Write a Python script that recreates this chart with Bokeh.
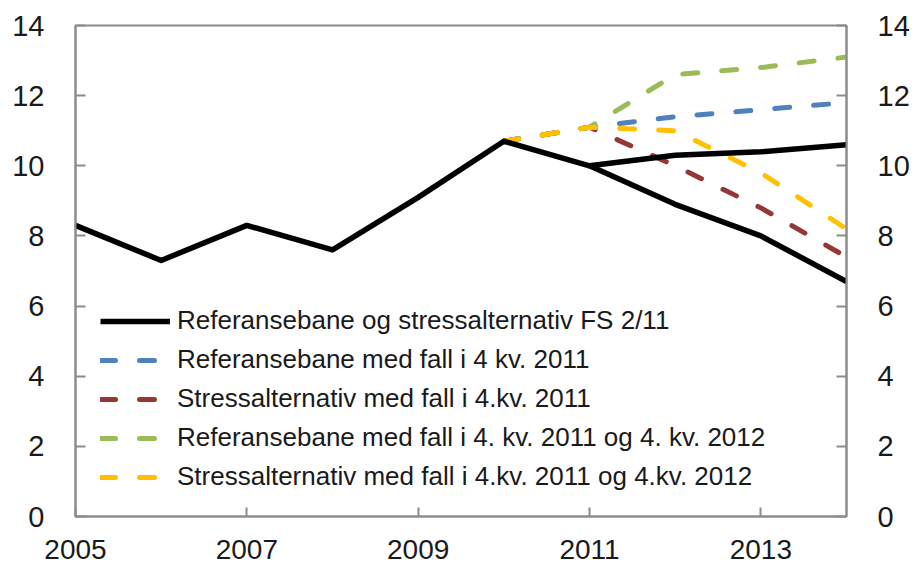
from bokeh.plotting import figure
from bokeh.models import Range1d, FixedTicker, LinearAxis, Legend, LegendItem
from bokeh.embed import file_html
from bokeh.resources import INLINE

# ---- data ----
years = [2005, 2006, 2007, 2008, 2009, 2010, 2011, 2012, 2013, 2014]
ref_fs = [8.3, 7.3, 8.3, 7.6, 9.1, 10.7, 10.0, 10.3, 10.4, 10.6]
stress_years = [2011, 2012, 2013, 2014]
stress_fs = [10.0, 8.9, 8.0, 6.7]

scen_years = [2010, 2011, 2012, 2013, 2014]
ref_q4_2011 = [10.7, 11.1, 11.4, 11.6, 11.8]
stress_q4_2011 = [10.7, 11.1, 10.0, 8.8, 7.4]
ref_q4_2011_2012 = [10.7, 11.1, 12.6, 12.8, 13.1]
stress_q4_2011_2012 = [10.7, 11.1, 11.0, 9.8, 8.2]

labels = [
    "Referansebane og stressalternativ FS 2/11",
    "Referansebane med fall i 4 kv. 2011",
    "Stressalternativ med fall i 4.kv. 2011",
    "Referansebane med fall i 4. kv. 2011 og 4. kv. 2012",
    "Stressalternativ med fall i 4.kv. 2011 og 4.kv. 2012",
]
x_ticks = [2005, 2007, 2009, 2011, 2013]
y_ticks = [0, 2, 4, 6, 8, 10, 12, 14]

FONT = "Liberation Sans"
GREY = "#8C8C8C"

p = figure(width=912, height=573, output_backend="svg", toolbar_location=None,
           x_range=Range1d(2005, 2014), y_range=Range1d(0, 14),
           min_border_left=75, min_border_right=64, min_border_top=25, min_border_bottom=57)
p.grid.visible = False
p.outline_line_color = GREY
p.outline_line_width = 2
p.background_fill_color = "white"
p.border_fill_color = "white"

def style_axis(ax, ticks, tin, standoff, size):
    ax.ticker = FixedTicker(ticks=ticks)
    ax.axis_line_color = GREY
    ax.axis_line_width = 2
    ax.major_tick_line_color = GREY
    ax.major_tick_line_width = 2
    ax.major_tick_in = tin
    ax.major_tick_out = 0
    ax.minor_tick_line_color = None
    ax.major_label_text_font = FONT
    ax.major_label_text_font_size = size
    ax.major_label_text_color = "#1a1a1a"
    ax.major_label_standoff = standoff

style_axis(p.xaxis[0], x_ticks, 9, 23, "28px")
style_axis(p.yaxis[0], y_ticks, 10, 31, "29px")
right = LinearAxis()
style_axis(right, y_ticks, 10, 31, "29px")
p.add_layout(right, "right")

dash = "15 24"
r_blue = p.line(scen_years, ref_q4_2011, line_color="#4F81BD", line_width=5,
                line_dash=dash, line_cap="round")
r_red = p.line(scen_years, stress_q4_2011, line_color="#953735", line_width=5,
               line_dash=dash, line_cap="round")
r_green = p.line(scen_years, ref_q4_2011_2012, line_color="#9BBB59", line_width=5,
                 line_dash=dash, line_cap="round")
r_yellow = p.line(scen_years, stress_q4_2011_2012, line_color="#FFC000", line_width=5,
                  line_dash=dash, line_cap="round")
r_black = p.line(years, ref_fs, line_color="black", line_width=5.5, line_join="round")
p.line(stress_years, stress_fs, line_color="black", line_width=5.5, line_join="round")

legend = Legend(items=[
    LegendItem(label=labels[0], renderers=[r_black]),
    LegendItem(label=labels[1], renderers=[r_blue]),
    LegendItem(label=labels[2], renderers=[r_red]),
    LegendItem(label=labels[3], renderers=[r_green]),
    LegendItem(label=labels[4], renderers=[r_yellow]),
], location=(25, 24))
legend.background_fill_alpha = 0
legend.border_line_color = None
legend.padding = 0
legend.margin = 0
legend.glyph_width = 70
legend.glyph_height = 30
legend.label_height = 30
legend.spacing = 8
legend.label_standoff = 7
legend.label_text_font = FONT
legend.label_text_font_size = "26px"
legend.label_text_color = "#1a1a1a"
p.add_layout(legend)

open("out.html", "w").write(file_html(p, INLINE))
